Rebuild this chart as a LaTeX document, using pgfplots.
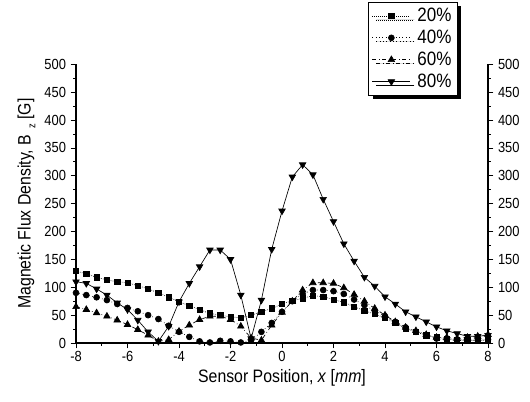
\documentclass[border=0pt]{standalone}
\usepackage{fontspec}
\setmainfont{Liberation Sans}[FakeStretch=0.88]
\usepackage{pgfplots}
\usepackage{pgfplotstable}
\pgfplotsset{compat=1.18}
\usetikzlibrary{shadows}

\pgfplotstableread{
x a b c d
-8.0 129 90 65 110
-7.6 124 86 60 107
-7.2 118 82 54 97
-6.8 113 77 48 86
-6.4 110 70 41 72
-6.0 108 63 33 60
-5.6 103 57 24 41
-5.2 97 50 14 20
-4.8 90 43 3 3
-4.4 82 31 6 30
-4.0 74 20 21 74
-3.6 67 11 32 107
-3.2 60 3 42 137
-2.8 53 1 48 167
-2.4 50 4 48 167
-2.0 47 3 42 150
-1.6 45 1 30 86
-1.2 50 5 9 8
-0.8 56 20 5 77
-0.4 62 36 32 168
0.0 70 56 55 237
0.4 76 75 75 298
0.8 80 88 95 320
1.2 85 95 108 302
1.6 83 95 108 258
2.0 78 93 107 218
2.4 73 88 99 178
2.8 65 78 87 147
3.2 58 68 75 118
3.6 52 58 62 102
4.0 45 48 50 83
4.4 36 38 38 70
4.8 26 28 28 56
5.2 20 20 22 47
5.6 14 14 15 38
6.0 10 8 10 29
6.4 8 6 10 22
6.8 6 5 8 17
7.2 5 5 10 12
7.6 5 5 12 12
8.0 5 6 15 14
}\data

\begin{document}
\begin{tikzpicture}
\begin{axis}[
  name=main,
  scale only axis,
  width=309pt, height=209pt,
  xmin=-8, xmax=8, ymin=0, ymax=500,
  axis x line*=bottom, axis y line*=left,
  xtick={-8,-6,...,8}, minor xtick={-7,-5,...,7},
  ytick={0,50,...,500}, minor ytick={25,75,...,475},
  tick align=outside,
  major tick length=4pt, minor tick length=2pt,
  tick style={black, line width=0.6pt},
  axis line style={line width=0.8pt},
  ticklabel style={font=\fontsize{11}{12}\selectfont},
  xticklabel style={yshift=1pt},
  /pgf/number format/assume math mode=true,
  xlabel={Sensor Position, \textit{x} [\textit{mm}]},
  ylabel={Magnetic Flux Density, B\,\,\raisebox{-0.5ex}{\footnotesize z} [G]},
  label style={font=\fontsize{13.5}{14}\selectfont},
  xlabel style={yshift=1pt},
  ylabel style={yshift=0pt},
  legend style={at={(rel axis cs:0.927,1.225)}, anchor=north east,
    draw=black, line width=0.8pt, fill=white,
    font=\fontsize{14.5}{15}\selectfont,
    drop shadow={shadow xshift=3pt, shadow yshift=-3pt, fill=black, opacity=1},
    row sep=0.8pt, inner sep=2.5pt},
  legend cell align=left,
  legend image code/.code={\draw[mark repeat=2,mark phase=2] plot coordinates {(0cm,0cm) (0.5cm,0cm) (1cm,0cm)};},
  every axis plot/.append style={line width=0.5pt},
]
\coordinate (ll) at (rel axis cs:0,0);
\addplot[black, densely dotted, mark=square*, mark size=2.0pt, mark options={solid}] table[x=x,y=a]{\data};
\addlegendentry{\hspace{3pt}20\%}
\addplot[black, dotted, mark=*, mark size=2.2pt, mark options={solid}] table[x=x,y=b]{\data};
\addlegendentry{\hspace{3pt}40\%}
\addplot[black, dashdotted, mark=triangle*, mark size=2.8pt, mark options={solid}] table[x=x,y=c]{\data};
\addlegendentry{\hspace{3pt}60\%}
\addplot[black, solid, mark=triangle*, mark size=2.8pt, mark options={solid, rotate=180}] table[x=x,y=d]{\data};
\addlegendentry{\hspace{3pt}80\%}
\end{axis}
\begin{axis}[
  scale only axis,
  width=309pt, height=209pt,
  xmin=-8, xmax=8, ymin=0, ymax=500,
  axis x line=none, axis y line*=right,
  ytick={0,50,...,500}, minor ytick={25,75,...,475},
  tick align=outside,
  major tick length=4pt, minor tick length=2pt,
  tick style={black, line width=0.6pt},
  axis line style={line width=0.8pt},
  ticklabel style={font=\fontsize{11}{12}\selectfont},
  /pgf/number format/assume math mode=true,
]
\end{axis}
\pgfresetboundingbox
\path[use as bounding box] (ll) ++(-57pt,-43.5pt) rectangle ++(397.5pt,300.75pt);
\end{tikzpicture}
\end{document}
